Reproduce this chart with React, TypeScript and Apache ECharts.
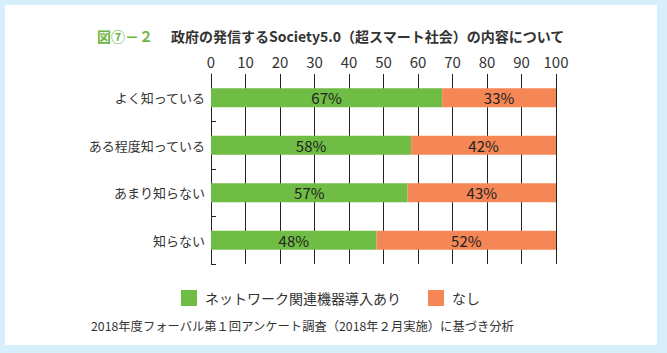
import React, { useEffect, useRef } from "react";
import * as echarts from "echarts";

const categories = ["よく知っている", "ある程度知っている", "あまり知らない", "知らない"];
const withNetwork = [67, 58, 57, 48];
const without = [33, 42, 43, 52];
const seriesNames = ["ネットワーク関連機器導入あり", "なし"];
const xTicks = { min: 0, max: 100, interval: 10 };

const FONT = '"Noto Sans CJK JP", "Noto Sans", sans-serif';

export default function App() {
  const ref = useRef<HTMLDivElement>(null);
  useEffect(() => {
    if (!ref.current) return;
    const chart = echarts.init(ref.current, null, { renderer: "svg" });
    chart.setOption({
      animation: false,
      textStyle: { fontFamily: FONT },
      title: [
        {
          left: 92,
          top: 22,
          text: "{g|図⑦－２}　{t|政府の発信するSociety5.0（超スマート社会）の内容について}",
          textStyle: {
            rich: {
              g: { color: "#6db641", fontSize: 14, fontWeight: "bold", fontFamily: FONT },
              t: { color: "#333", fontSize: 14, fontWeight: "bold", fontFamily: FONT },
            },
          },
        },
        {
          left: 86,
          top: 315,
          text: "2018年度フォーバル第１回アンケート調査（2018年２月実施）に基づき分析",
          textStyle: { color: "#333", fontSize: 12.3, fontWeight: "normal", fontFamily: FONT },
        },
      ],
      legend: {
        left: 176,
        top: 285,
        itemWidth: 16,
        itemHeight: 16,
        itemGap: 27,
        icon: "rect",
        data: seriesNames,
        textStyle: { fontSize: 14, color: "#333", padding: [0, 0, 0, 3], fontFamily: FONT },
      },
      grid: { left: 211, right: 111, top: 74, height: 190, containLabel: false },
      xAxis: {
        type: "value",
        position: "top",
        min: xTicks.min,
        max: xTicks.max,
        interval: xTicks.interval,
        axisLine: { show: false },
        axisTick: { show: false },
        axisLabel: { fontSize: 15, color: "#333", margin: 5, fontFamily: FONT },
        splitLine: { show: true, lineStyle: { color: "#222", width: 1 } },
      },
      yAxis: {
        type: "category",
        inverse: true,
        data: categories,
        axisLine: { show: true, lineStyle: { color: "#222", width: 1 } },
        axisTick: {
          show: true,
          inside: true,
          length: 5,
          interval: (index: number) => index !== 0,
          lineStyle: { color: "#222" },
        },
        axisLabel: { fontSize: 13, color: "#333", margin: 6, fontFamily: FONT },
      },
      series: [
        {
          name: seriesNames[0],
          type: "bar",
          stack: "total",
          barWidth: 19,
          data: withNetwork,
          itemStyle: { color: "#6fbd45" },
          label: {
            show: true,
            position: "inside",
            formatter: "{c}%",
            fontSize: 15,
            color: "#222",
            fontFamily: FONT,
          },
        },
        {
          name: seriesNames[1],
          type: "bar",
          stack: "total",
          barWidth: 19,
          data: without,
          itemStyle: { color: "#f58656" },
          label: {
            show: true,
            position: "inside",
            formatter: "{c}%",
            fontSize: 15,
            color: "#222",
            fontFamily: FONT,
          },
        },
      ],
    });
    return () => chart.dispose();
  }, []);

  return (
    <div style={{ position: "fixed", left: 0, top: 0, width: 667, height: 353, background: "#d6effb" }}>
      <div style={{ position: "absolute", left: 5, top: 5, width: 652, height: 340, background: "#ffffff" }} />
      <div ref={ref} style={{ position: "absolute", left: 0, top: 0, width: 667, height: 353 }} />
    </div>
  );
}
